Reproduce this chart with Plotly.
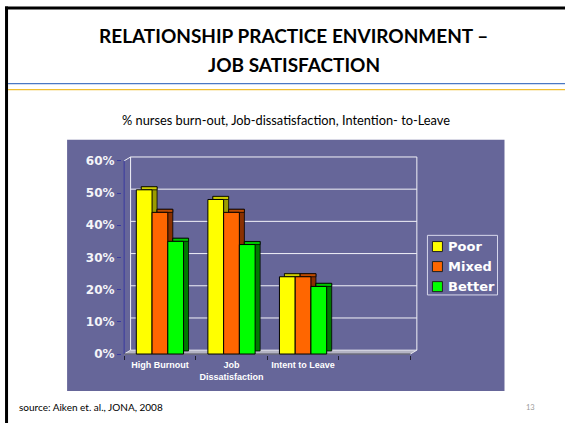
import plotly.graph_objects as go

# ---------------- data ----------------
categories = ["High Burnout", "Job Dissatisfaction", "Intent to Leave"]
tick_labels = ["High Burnout", "Job<br>Dissatisfaction", "Intent to Leave"]
series_names = ["Poor", "Mixed", "Better"]
poor = [51, 48, 24]
mixed = [44, 44, 24]
better = [35, 34, 21]
y_ticks = [0, 10, 20, 30, 40, 50, 60]
y_tick_labels = ["0%", "10%", "20%", "30%", "40%", "50%", "60%"]

title_line1 = "RELATIONSHIP PRACTICE ENVIRONMENT \u2013"
title_line2 = "JOB SATISFACTION"
subtitle = "% nurses burn-out, Job-dissatisfaction, Intention- to-Leave"
source_text = "source: Aiken et. al., JONA, 2008"
page_number = "13"

# ---------------- styles ----------------
front_colors = ["#FFFF00", "#FF6600", "#00FF00"]
side_colors = ["#9C9C00", "#8A3000", "#007A00"]
top_colors = ["#CFCF00", "#C04A00", "#00C400"]
chart_bg = "#666699"

W, H = 565, 423
U = 71.5      # px per category
X0 = 124.0    # px of x=-0.5
S = 3.215     # px per percent
Y0 = 354.0    # px of y=0

n_slots = 4
wdx, wdy = 0.09, 1.2     # wall depth (axis units)
bdx, bdy = 0.07, 0.95    # bar depth
bar_w = 0.22
offsets = [-0.33, -0.11, 0.11]

x_lo, x_hi = -0.53, (n_slots - 0.5) + wdx + 0.03
y_lo, y_hi = -0.3, 60 + wdy + 0.3
PL = X0 + (x_lo + 0.5) * U
PR = X0 + (x_hi + 0.5) * U
PB = Y0 - y_lo * S
PT = Y0 - y_hi * S


def xp(px):
    return (px - PL) / (PR - PL)


def yp(py):
    return (PB - py) / (PB - PT)


series_values = [poor, mixed, better]
xs = list(range(len(categories)))

fig = go.Figure()

# 3D extrusions (side + top faces), drawn left to right
for vals, off, sc, tc in zip(series_values, offsets, side_colors, top_colors):
    fig.add_trace(go.Bar(
        x=xs, y=vals, base=[bdy] * len(vals), offset=off + bdx, width=bar_w,
        marker=dict(color=sc, line=dict(color="#000000", width=0.8)),
        showlegend=False, hoverinfo="skip"))
    fig.add_trace(go.Bar(
        x=xs, y=[bdy] * len(vals), base=vals, offset=off + bdx, width=bar_w,
        marker=dict(color=tc, line=dict(color="#000000", width=0.8)),
        showlegend=False, hoverinfo="skip"))

# front faces
for name, vals, off, fc in zip(series_names, series_values, offsets, front_colors):
    fig.add_trace(go.Bar(
        x=xs, y=vals, offset=off, width=bar_w, name=name,
        marker=dict(color=fc, line=dict(color="#000000", width=1)),
        showlegend=False))

shapes = []
# slide background chart panel
shapes.append(dict(type="rect", xref="paper", yref="paper", layer="below",
                   x0=xp(67), x1=xp(504), y0=yp(391), y1=yp(140),
                   fillcolor=chart_bg, line=dict(width=0)))
# floor
xa, xb = -0.5, n_slots - 0.5
shapes.append(dict(type="path", xref="x", yref="y", layer="below",
                   path=f"M {xa},0 L {xb},0 L {xb + wdx},{wdy} L {xa + wdx},{wdy} Z",
                   fillcolor="#B4B4C4", line=dict(color="#E8E8F0", width=1)))
# back wall grid lines
for t in y_ticks[1:]:
    shapes.append(dict(type="line", xref="x", yref="y", layer="below",
                       x0=xa + wdx, x1=xb + wdx, y0=t + wdy, y1=t + wdy,
                       line=dict(color="#F2F2F8", width=1)))
# back wall edges
for xe in (xa + wdx, xb + wdx):
    shapes.append(dict(type="line", xref="x", yref="y", layer="below",
                       x0=xe, x1=xe, y0=wdy, y1=y_ticks[-1] + wdy,
                       line=dict(color="#F2F2F8", width=1)))
# left wall top edge
shapes.append(dict(type="line", xref="x", yref="y", layer="below",
                   x0=xa, x1=xa + wdx, y0=y_ticks[-1], y1=y_ticks[-1] + wdy,
                   line=dict(color="#F2F2F8", width=1)))
# front y axis line
shapes.append(dict(type="line", xref="x", yref="y", layer="below",
                   x0=xa, x1=xa, y0=0, y1=y_ticks[-1],
                   line=dict(color="#3A3AA0", width=1)))
# front x axis line
shapes.append(dict(type="line", xref="x", yref="y", layer="below",
                   x0=xa, x1=xb, y0=0, y1=0,
                   line=dict(color="#303040", width=1)))

# slide frame
shapes.append(dict(type="line", xref="paper", yref="paper",
                   x0=xp(5), x1=xp(565), y0=yp(8.5), y1=yp(8.5),
                   line=dict(color="#000000", width=3)))
shapes.append(dict(type="line", xref="paper", yref="paper",
                   x0=xp(6.5), x1=xp(6.5), y0=yp(7), y1=yp(423),
                   line=dict(color="#000000", width=3)))
# title separator lines
shapes.append(dict(type="line", xref="paper", yref="paper",
                   x0=xp(8), x1=xp(565), y0=yp(84), y1=yp(84),
                   line=dict(color="#4A78C4", width=1.2)))
shapes.append(dict(type="line", xref="paper", yref="paper",
                   x0=xp(8), x1=xp(565), y0=yp(90), y1=yp(90),
                   line=dict(color="#F0BE30", width=1.2)))

# legend (box, swatches)
leg_x0, leg_x1, leg_y0, leg_y1 = 427, 497, 235.5, 295
shapes.append(dict(type="rect", xref="paper", yref="paper",
                   x0=xp(leg_x0), x1=xp(leg_x1), y0=yp(leg_y1), y1=yp(leg_y0),
                   line=dict(color="#D8D8EC", width=1), fillcolor="rgba(0,0,0,0)"))
annotations = []
for i, (name, fc) in enumerate(zip(series_names, front_colors)):
    cy = 246.7 + 20 * i
    shapes.append(dict(type="rect", xref="paper", yref="paper",
                       x0=xp(432), x1=xp(442), y0=yp(cy + 5), y1=yp(cy - 5),
                       fillcolor=fc, line=dict(color="#202020", width=1)))
    annotations.append(dict(xref="paper", yref="paper", x=xp(445.5), y=yp(cy),
                            xanchor="left", yanchor="middle", showarrow=False,
                            text=f"<b>{name}</b>",
                            font=dict(family="DejaVu Sans", size=13, color="#FFFFFF")))

# slide texts
annotations.append(dict(xref="paper", yref="paper", x=xp(293.5), y=yp(36),
                        xanchor="center", yanchor="middle", showarrow=False,
                        text=f"<b>{title_line1}</b>",
                        font=dict(family="Lato", size=19, color="#000000")))
annotations.append(dict(xref="paper", yref="paper", x=xp(293.5), y=yp(65),
                        xanchor="center", yanchor="middle", showarrow=False,
                        text=f"<b>{title_line2}</b>",
                        font=dict(family="Lato", size=19, color="#000000")))
annotations.append(dict(xref="paper", yref="paper", x=xp(285.6), y=yp(120),
                        xanchor="center", yanchor="middle", showarrow=False,
                        text=subtitle,
                        font=dict(family="Lato", size=12.8, color="#000000")))
annotations.append(dict(xref="paper", yref="paper", x=xp(17), y=yp(407),
                        xanchor="left", yanchor="middle", showarrow=False,
                        text=source_text,
                        font=dict(family="Lato", size=10, color="#000000")))
annotations.append(dict(xref="paper", yref="paper", x=xp(530), y=yp(407),
                        xanchor="center", yanchor="middle", showarrow=False,
                        text=page_number,
                        font=dict(family="Lato", size=7.5, color="#9A9A9A")))

fig.update_layout(
    width=W, height=H,
    margin=dict(l=PL, r=W - PR, t=PT, b=H - PB, autoexpand=False),
    paper_bgcolor="#FFFFFF", plot_bgcolor="rgba(0,0,0,0)",
    barmode="overlay", showlegend=False,
    shapes=shapes, annotations=annotations,
    xaxis=dict(range=[x_lo, x_hi], tickvals=xs, ticktext=tick_labels,
               ticks="outside", ticklen=1, tickcolor="rgba(0,0,0,0)",
               showgrid=False, zeroline=False, showline=False,
               tickfont=dict(family="Liberation Sans", size=9, color="#FFFFFF", weight="bold"),
               minor=dict(tickvals=[k - 0.5 for k in range(n_slots + 1)], ticks="outside",
                          ticklen=4, tickcolor="#202030", tickwidth=1, showgrid=False)),
    yaxis=dict(range=[y_lo, y_hi], tickvals=y_ticks, ticktext=y_tick_labels,
               ticks="outside", ticklen=4, tickcolor="#3A3AA0",
               showgrid=False, zeroline=False, showline=False,
               tickfont=dict(family="DejaVu Sans", size=12, color="#F4F4F8", weight="bold")),
)

fig.write_html("out.html", config={"displayModeBar": False},
               post_script="document.body.style.margin='0';")
